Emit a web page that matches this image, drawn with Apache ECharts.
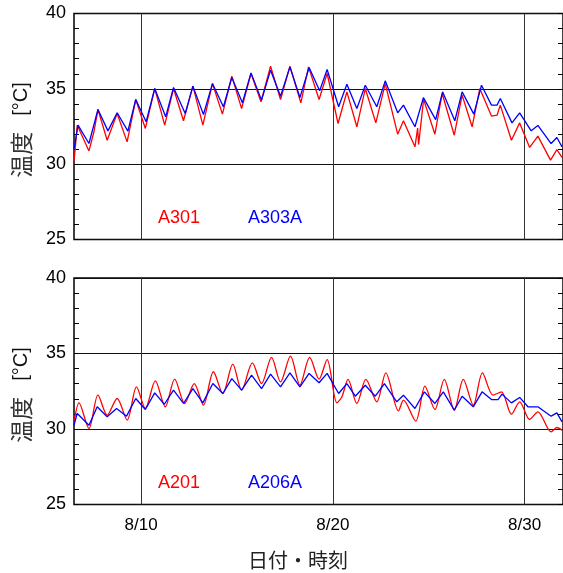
<!DOCTYPE html>
<html><head><meta charset="utf-8">
<script src="https://cdn.jsdelivr.net/npm/echarts@6/dist/echarts.min.js"></script>
<style>html,body{margin:0;padding:0;background:#fff}#c{width:563px;height:573px}</style>
</head><body><div id="c"></div>
<script>
// x values: day of August (decimal), e.g. 10.5 = 8/10 12:00
const xTickDays = [10, 20, 30];
const xTickLabels = ['8/10', '8/20', '8/30'];
const yTicks = [25, 30, 35, 40];

// Top panel: A301 (red)
const tA301 = [6.5, 6.67, 7.28, 7.54, 7.75, 8.23, 8.75, 9.27, 9.72, 10.22, 10.71, 11.23, 11.69, 12.21, 12.70, 13.22, 13.72, 14.24, 14.73, 15.24, 15.73, 16.25, 16.75, 17.27, 17.76, 18.33, 18.73, 19.28, 19.70, 20.27, 20.51, 20.73, 21.25, 21.69, 22.24, 22.73, 23.38, 23.68, 24.28, 24.42, 24.47, 24.73, 25.32, 25.70, 26.33, 26.74, 27.26, 27.66, 28.27, 28.56, 28.73, 29.31, 29.74, 30.26, 30.69, 31.35, 31.68, 31.95];
const vA301 = [30.15, 32.59, 30.88, 32.15, 33.63, 31.59, 33.36, 31.48, 34.29, 32.37, 35.02, 32.59, 35.02, 32.88, 35.18, 32.59, 35.35, 33.32, 35.84, 33.69, 36.02, 34.14, 36.50, 34.29, 36.50, 34.07, 36.46, 34.29, 36.02, 32.70, 33.81, 34.80, 32.48, 35.02, 32.74, 35.35, 31.99, 32.88, 31.15, 32.40, 31.30, 34.30, 31.99, 34.69, 31.92, 34.58, 32.48, 35.02, 33.19, 33.25, 33.92, 31.59, 32.74, 31.11, 31.86, 30.27, 30.97, 30.45];

// Top panel: A303A (blue)
const tA303A = [6.5, 6.71, 7.28, 7.75, 8.27, 8.75, 9.31, 9.72, 10.26, 10.71, 11.28, 11.69, 12.30, 12.70, 13.25, 13.72, 14.29, 14.73, 15.28, 15.73, 16.28, 16.75, 17.27, 17.76, 18.28, 18.76, 19.31, 19.70, 20.30, 20.73, 21.25, 21.69, 22.29, 22.73, 23.38, 23.68, 24.28, 24.72, 25.36, 25.72, 26.36, 26.74, 27.35, 27.75, 28.27, 28.56, 28.73, 29.34, 29.74, 30.34, 30.69, 31.38, 31.68, 31.95];
const vA303A = [31.0, 32.59, 31.37, 33.63, 32.21, 33.41, 32.19, 34.29, 32.81, 35.02, 33.14, 35.09, 33.36, 35.18, 33.30, 35.35, 33.81, 35.75, 34.07, 36.06, 34.25, 36.24, 34.51, 36.46, 34.42, 36.42, 34.87, 36.28, 33.81, 35.31, 33.69, 35.24, 33.81, 35.53, 33.41, 33.92, 32.48, 34.42, 32.96, 34.80, 32.88, 34.80, 33.32, 35.24, 33.92, 33.92, 34.36, 32.74, 33.41, 32.21, 32.57, 31.37, 31.77, 31.15];

// Bottom panel: A201 (red)
const tA201 = [6.5, 6.76, 7.28, 7.75, 8.23, 8.75, 9.27, 9.76, 10.22, 10.74, 11.26, 11.75, 12.27, 12.77, 13.25, 13.77, 14.26, 14.78, 15.24, 15.80, 16.28, 16.80, 17.27, 17.79, 18.28, 18.79, 19.28, 19.70, 20.21, 20.47, 20.79, 21.25, 21.72, 22.29, 22.76, 23.42, 23.68, 24.32, 24.80, 25.32, 25.81, 26.33, 26.80, 27.32, 27.80, 28.35, 28.79, 29.31, 29.74, 30.26, 30.69, 31.38, 31.68, 31.95];
const vA201 = [30.41, 31.73, 30.03, 32.24, 30.92, 32.02, 30.59, 32.79, 31.36, 33.19, 31.47, 33.30, 31.69, 33.01, 31.58, 33.79, 32.35, 34.29, 32.57, 34.38, 33.01, 34.74, 33.12, 34.82, 32.90, 34.74, 33.30, 34.60, 31.73, 32.13, 33.28, 31.69, 33.28, 31.80, 33.72, 31.20, 31.91, 30.52, 32.84, 31.29, 33.28, 31.25, 33.28, 31.58, 33.72, 32.24, 32.46, 30.98, 31.80, 30.63, 31.14, 29.81, 30.10, 29.92];

// Bottom panel: A206A (blue)
const tA206A = [6.5, 6.67, 7.28, 7.71, 8.23, 8.72, 9.24, 9.72, 10.22, 10.71, 11.21, 11.69, 12.21, 12.70, 13.22, 13.74, 14.26, 14.73, 15.24, 15.76, 16.28, 16.75, 17.27, 17.76, 18.28, 18.76, 19.28, 19.70, 20.30, 20.73, 21.17, 21.69, 22.21, 22.69, 23.33, 23.68, 24.28, 24.77, 25.32, 25.76, 26.33, 26.74, 27.32, 27.78, 28.27, 28.61, 28.82, 29.31, 29.74, 30.17, 30.69, 31.38, 31.68, 31.95];
const vA206A = [30.25, 31.03, 30.25, 31.47, 30.81, 31.36, 30.85, 32.02, 31.29, 32.39, 31.64, 32.57, 31.69, 32.68, 31.73, 33.01, 32.35, 33.34, 32.57, 33.57, 32.68, 33.63, 32.79, 33.72, 32.79, 33.68, 33.06, 33.68, 32.35, 33.01, 32.17, 32.90, 32.17, 33.01, 31.80, 32.24, 31.36, 32.46, 31.69, 32.46, 31.25, 32.17, 31.47, 32.46, 31.95, 31.95, 32.31, 31.73, 32.09, 31.47, 31.47, 30.85, 31.07, 30.47];

const pairs = (t, v) => t.map((x, i) => [x, v[i]]);
const FONT = "'Liberation Sans', Arial, sans-serif";
const CJK = "'Noto Sans CJK JP', sans-serif";

function xAxis(gi, showLabels) {
  return {
    type: 'value', gridIndex: gi, min: 6.5, max: 32,
    axisLine: { show: false },
    axisTick: { show: false, customValues: xTickDays },
    axisLabel: {
      show: showLabels, customValues: xTickDays, margin: 12,
      formatter: v => xTickLabels[xTickDays.indexOf(Math.round(v))],
      fontFamily: FONT, fontSize: 17, color: '#000'
    },
    splitLine: { show: true, lineStyle: { color: '#333', width: 1 } }
  };
}
function yAxis(gi, pos) {
  const left = pos === 'left';
  return {
    type: 'value', gridIndex: gi, position: pos, min: yTicks[0], max: yTicks[yTicks.length - 1], interval: 5,
    axisLine: { show: false },
    axisTick: { show: true, inside: true, length: 5, lineStyle: { color: '#000' } },
    minorTick: { show: true, splitNumber: 5, length: 5, lineStyle: { color: '#000' } },
    axisLabel: { show: left, margin: 8, fontFamily: FONT, fontSize: 18, color: '#000' },
    splitLine: { show: left, lineStyle: { color: '#111', width: 1 } }
  };
}
function line(name, data, color, xi, yi, smooth) {
  return {
    name, type: 'line', data, xAxisIndex: xi, yAxisIndex: yi, showSymbol: false,
    smooth: smooth || false, lineStyle: { color, width: 1.3 }, itemStyle: { color },
    animation: false, z: 3
  };
}
function label(text, x, y, color) {
  return { type: 'text', left: x, top: y, style: { text, fill: color, font: '18px ' + FONT } };
}
function yName(cy) {
  return { type: 'text', x: 21, y: cy, rotation: Math.PI / 2,
    style: {
      text: '{a|温度}{b|[°C]}', align: 'center', verticalAlign: 'middle',
      rich: {
        a: { fontFamily: CJK, fontSize: 23, fill: '#333', color: '#333' },
        b: { fontFamily: FONT, fontSize: 20, fill: '#111', color: '#111', padding: [0, 0, 0, 16] }
      }
    } };
}

const chart = echarts.init(document.getElementById('c'), null, { renderer: 'canvas' });
chart.setOption({
  animation: false,
  backgroundColor: '#fff',
  grid: [
    { left: 74, top: 13.5, width: 491, height: 226, show: true, borderColor: '#000', borderWidth: 1.5 },
    { left: 74, top: 278, width: 491, height: 226.5, show: true, borderColor: '#000', borderWidth: 1.5 }
  ],
  xAxis: [xAxis(0, false), xAxis(1, true)],
  yAxis: [yAxis(0, 'left'), yAxis(0, 'right'), yAxis(1, 'left'), yAxis(1, 'right')],
  series: [
    line('A301', pairs(tA301, vA301), '#ff0000', 0, 0),
    line('A303A', pairs(tA303A, vA303A), '#0000ff', 0, 0),
    line('A201', pairs(tA201, vA201), '#ff0000', 1, 2, 0.3),
    line('A206A', pairs(tA206A, vA206A), '#0000ff', 1, 2)
  ],
  graphic: [
    label('A301', 158, 209, '#ff0000'),
    label('A303A', 248, 209, '#0000ff'),
    label('A201', 158, 474, '#ff0000'),
    label('A206A', 248, 474, '#0000ff'),
    yName(130), yName(395),
    { type: 'text', x: 298, y: 560, style: { text: '日付・時刻', fill: '#222', font: '20px ' + CJK, align: 'center', verticalAlign: 'middle' } }
  ]
});
</script></body></html>
